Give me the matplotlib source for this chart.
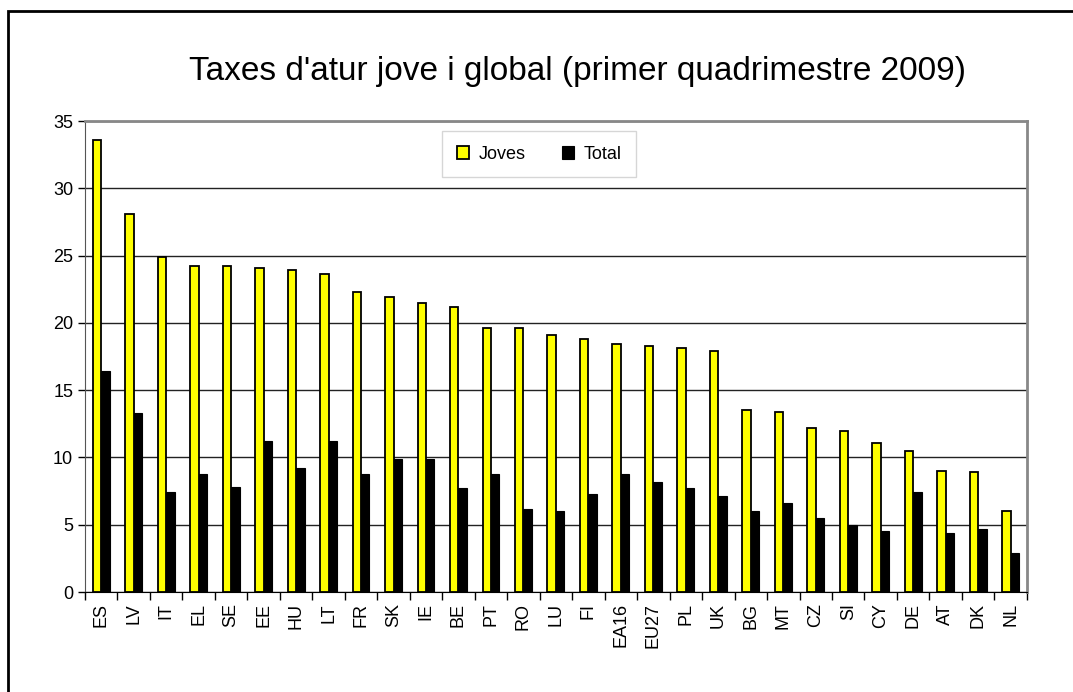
import matplotlib
matplotlib.use('Agg')
import matplotlib.pyplot as plt
import matplotlib.patches as patches
import numpy as np

plt.rcParams['font.family'] = ['Liberation Sans', 'DejaVu Sans']

paisos = ['ES', 'LV', 'IT', 'EL', 'SE', 'EE', 'HU', 'LT', 'FR', 'SK', 'IE', 'BE', 'PT', 'RO', 'LU',
          'FI', 'EA16', 'EU27', 'PL', 'UK', 'BG', 'MT', 'CZ', 'SI', 'CY', 'DE', 'AT', 'DK', 'NL']
joves = [33.6, 28.1, 24.9, 24.2, 24.2, 24.1, 23.9, 23.6, 22.3, 21.9, 21.5, 21.2, 19.6, 19.6, 19.1,
         18.8, 18.4, 18.3, 18.1, 17.9, 13.5, 13.4, 12.2, 12.0, 11.1, 10.5, 9.0, 8.9, 6.0]
total = [16.4, 13.3, 7.4, 8.8, 7.8, 11.2, 9.2, 11.2, 8.8, 9.9, 9.9, 7.7, 8.8, 6.2, 6.0,
         7.3, 8.8, 8.2, 7.7, 7.1, 6.0, 6.6, 5.5, 5.0, 4.5, 7.4, 4.4, 4.7, 2.9]

fig = plt.figure(figsize=(10.73, 6.92), dpi=100)
ax = fig.add_axes([0.0792, 0.1445, 0.8778, 0.6805])

x = np.arange(len(paisos))
w = 0.26
ax.bar(x - w/2, joves, w, color='#ffff00', edgecolor='black', linewidth=1.3, label='Joves', zorder=3)
ax.bar(x + w/2, total, w, color='black', edgecolor='black', linewidth=0.8, label='Total', zorder=3)

ax.set_xlim(-0.5, len(paisos) - 0.5)
ax.set_ylim(0, 35)
ax.set_yticks(range(0, 36, 5))
ax.yaxis.grid(True, color='#222222', linewidth=1.0, zorder=0)
ax.set_axisbelow(True)

ax.set_xticks(x)
ax.set_xticklabels(paisos, rotation=90, fontsize=13)
ax.set_xticks(np.arange(-0.5, len(paisos), 1), minor=True)
ax.tick_params(axis='x', which='major', length=0, pad=8)
ax.tick_params(axis='x', which='minor', length=6, width=1, direction='out')
ax.tick_params(axis='y', labelsize=13, length=5, width=1, direction='out')

for s in ['top', 'right']:
    ax.spines[s].set_color('#888888')
    ax.spines[s].set_linewidth(2)
ax.spines['left'].set_color('#555555')
ax.spines['bottom'].set_color('black')

leg = ax.legend(loc='center', bbox_to_anchor=(0.482, 0.93), ncol=2, fontsize=13, frameon=True,
                fancybox=False, edgecolor='#cccccc', handlelength=0.7, handleheight=0.7,
                columnspacing=2.0, borderpad=0.8, handletextpad=0.5)
leg.get_frame().set_linewidth(1)

fig.text(0.538, 0.897, "Taxes d'atur jove i global (primer quadrimestre 2009)",
         ha='center', va='center', fontsize=24)

fig.add_artist(patches.Rectangle((8/1073, -0.1), 1.2, (692 - 11)/692 + 0.1,
                                 transform=fig.transFigure, fill=False, edgecolor='black', linewidth=2))

plt.savefig('out.png', dpi=100)
